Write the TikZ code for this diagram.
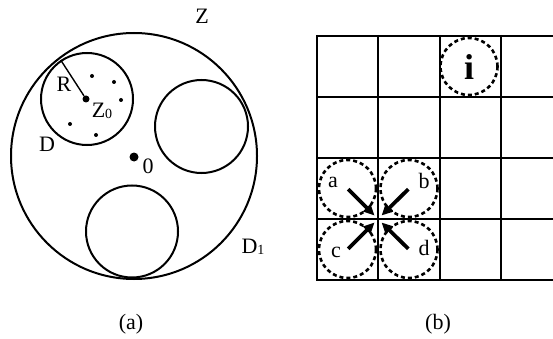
\documentclass[tikz,border=0pt]{standalone}
\usepackage{fontspec}
\setmainfont{Liberation Serif}
\usepackage{tikz}
\usetikzlibrary{arrows.meta,positioning,calc}
\tikzset{
  >={Triangle[length=11pt,width=10pt]},
  circ/.style={draw,circle,line width=2pt,inner sep=0pt},
  dcirc/.style={draw,circle,line width=2.6pt,dash pattern=on 4pt off 3pt,inner sep=0pt,minimum size=57pt},
  dot/.style={fill,circle,inner sep=0pt,minimum size=4pt},
  lab/.style={font=\fontsize{22}{24}\selectfont,inner sep=0pt},
  grd/.style={line width=2.6pt},
  arr/.style={->,line width=3.8pt,shorten >=5pt,shorten <=1pt},
}
\begin{document}
\begin{tikzpicture}[x=1pt,y=-1pt]
\useasboundingbox (0,0) rectangle (553,339);
% (a) disks
\node[circ,minimum size=246pt] (D1) at (134,156) {};
\node[circ,minimum size=92pt] (D) at (87,99) {};
\node[circ,minimum size=93pt] (Dr) at (201.5,126.5) {};
\node[circ,minimum size=92pt] (Db) at (132,231.5) {};
\node[dot,minimum size=7pt] (z0) at (86,99) {};
\node[dot,minimum size=9pt] (o) at (134,157) {};
\foreach \p in {(92,76),(114,82),(121,100),(70,124),(96,135)}
  \node[dot] at \p {};
\draw[line width=1.4pt] (D.124) -- (z0);
\node[lab] (lR) at (64,84) {R};
\node[lab] (lZ0) at (102,111) {Z\raisebox{-1pt}{\fontsize{14}{14}\selectfont 0}};
\node[lab] (lD) at (47,144) {D};
\node[lab] (lD1) at (253,247) {D\raisebox{-1pt}{\fontsize{14}{14}\selectfont 1}};
\node[lab] (lZ) at (202,16) {Z};
\node[lab] (lo) at (148,166) {0};
\node[lab] (capa) at (131,324) {(a)};
% (b) grid
\foreach \y in {36,97,158,219,280}
  \draw[grd] (316,\y) -- (553,\y);
\foreach \x in {317,378,440,501}
  \draw[grd] (\x,35) -- (\x,281);
\node[dcirc] (ci) at (469,66.5) {};
\node[lab,font=\fontsize{36}{38}\selectfont\bfseries] (li) at (469,67) {i};
\node[dcirc] (ca) at (347.5,188.5) {};
\node[dcirc] (cb) at (409,188.5) {};
\node[dcirc] (cc) at (347.5,249.5) {};
\node[dcirc] (cd) at (409,249.5) {};
\coordinate (mid) at (378,219);
\node[lab] (la) at (333,182) {a};
\node[lab] (lb) at (424,181) {b};
\node[lab] (lc) at (336,252) {c};
\node[lab] (ld) at (424,248) {d};
\draw[arr] (ca.center) -- (mid); \draw[arr] (cb.center) -- (mid);
\draw[arr] (cc.center) -- (mid); \draw[arr] (cd.center) -- (mid);
\node[lab] (capb) at (438,324) {(b)};
\end{tikzpicture}
\end{document}
